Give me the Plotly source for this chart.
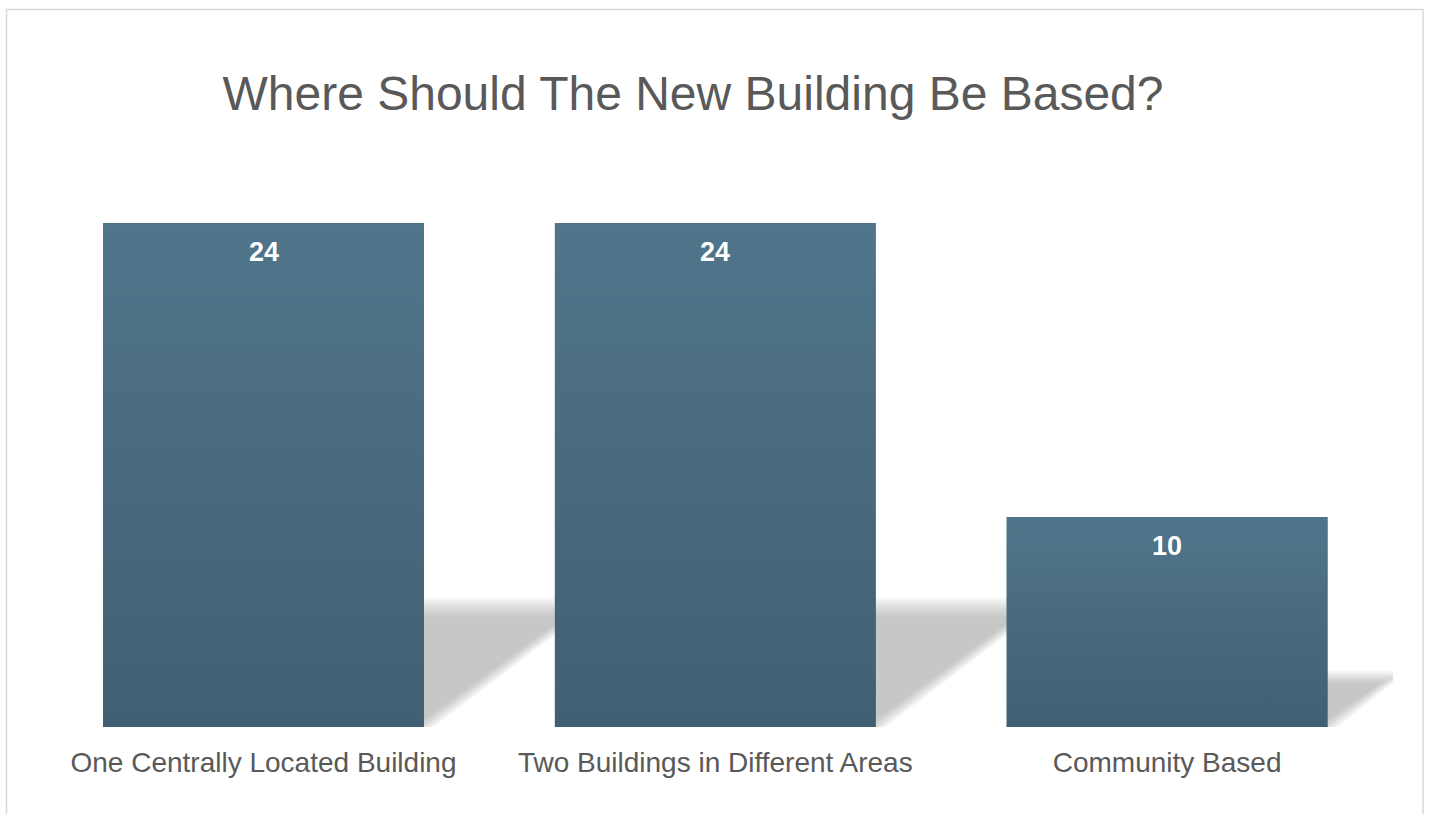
import plotly.graph_objects as go

categories = ["One Centrally Located Building", "Two Buildings in Different Areas", "Community Based"]
values = [24, 24, 10]

W, H = 1429, 814
BAR_TOP = "#50758a"
BAR_BOT = "#415f73"
BAR_MID = "#48697e"
TEXT_GREY = "#595959"
HALF = 0.355  # half bar width in category units

xs = list(range(len(categories)))

fig = go.Figure()
fig.add_trace(go.Bar(
    x=xs, y=values, width=2 * HALF,
    marker=dict(color=BAR_MID, line=dict(width=0)),
    hoverinfo="x+y", showlegend=False,
))

# vertical gradient overlay on each bar, derived from the bar values
for i, v in zip(xs, values):
    fig.add_trace(go.Scatter(
        x=[i - HALF, i + HALF, i + HALF, i - HALF, i - HALF],
        y=[0, 0, v, v, 0],
        mode="lines", line=dict(width=0), fill="toself",
        fillgradient=dict(type="vertical", colorscale=[[0, BAR_BOT], [1, BAR_TOP]]),
        hoverinfo="skip", showlegend=False,
    ))

# soft perspective shadows behind each bar
shapes = []
n_layers = 10
for i, v in zip(xs, values):
    for k in range(n_layers):
        d = (k - (n_layers - 1) / 2) / (n_layers - 1)  # -0.5 .. 0.5
        hh = v * 0.238 * (1 + 0.10 * d) + 0.35 * d
        sh = v * 0.0148 * (1 + 0.12 * d)
        dx = 0.045 * d
        xl = i - HALF
        xr = i + HALF + dx
        path = (f"M {xl},0 L {xr},0 L {xr + sh},{hh} L {xl + sh},{hh} Z")
        shapes.append(dict(type="path", path=path, xref="x", yref="y",
                           fillcolor="rgba(150,150,150,0.065)", line=dict(width=0),
                           layer="below"))

# chart border
shapes.append(dict(type="rect", xref="paper", yref="paper",
                   x0=6.5 / W, x1=1423 / W, y0=-0.05, y1=1 - 9.5 / H,
                   line=dict(color="#d9d9d9", width=1.5), fillcolor="rgba(0,0,0,0)",
                   layer="above"))

annotations = []
for i, v in zip(xs, values):
    annotations.append(dict(x=i, y=v, xref="x", yref="y", text=f"<b>{v}</b>",
                            showarrow=False, yanchor="middle", yshift=-29,
                            font=dict(family="Liberation Sans, Arial", size=27, color="white")))

fig.update_layout(
    width=W, height=H,
    margin=dict(l=0, r=0, t=0, b=0),
    paper_bgcolor="white", plot_bgcolor="white",
    title=dict(text="Where Should The New Building Be Based?",
               x=693 / W, xanchor="center", y=1 - 93 / H, yanchor="middle",
               font=dict(family="Liberation Sans, Arial", size=48, color=TEXT_GREY)),
    xaxis=dict(domain=[37.6 / W, 1393 / W], range=[-0.5, 2.5],
               tickmode="array", tickvals=xs, ticktext=categories,
               showgrid=False, zeroline=False, showline=False, ticks="",
               automargin=False, ticklabelstandoff=16,
               tickfont=dict(family="Liberation Sans, Arial", size=28, color=TEXT_GREY)),
    yaxis=dict(domain=[(H - 727) / H, (H - 223) / H], range=[0, 24],
               showgrid=False, zeroline=False, showline=False, showticklabels=False,
               ticks="", automargin=False),
    shapes=shapes, annotations=annotations,
    showlegend=False,
)

fig.write_html("out.html", config={"displayModeBar": False},
               post_script="document.body.style.margin='0';document.body.style.overflow='hidden';")
